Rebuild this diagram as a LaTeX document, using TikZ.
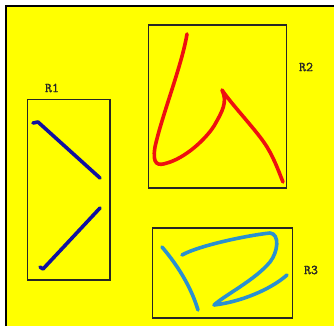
\documentclass[tikz,border=0pt]{standalone}
\usepackage{fontspec}
\newfontfamily\lblfont{Latin Modern Mono}[FakeBold=1.2]
\definecolor{bg}{HTML}{FFFF00}
\definecolor{navy}{HTML}{1010A0}
\definecolor{redink}{HTML}{EE1010}
\definecolor{skyink}{HTML}{2A90D0}
\begin{document}
\begin{tikzpicture}[x=1pt,y=-1pt,
  region/.style={draw=black!85,line width=1.3pt,inner sep=0pt,anchor=north west},
  lbl/.style={font=\lblfont\fontsize{13.5}{15}\selectfont,inner sep=0pt,text=black!85},
  ink/.style={line width=3.6pt,line cap=round,line join=round}]
\useasboundingbox (0,0) rectangle (334,326);
\fill[white] (0,0) rectangle (334,326);
\fill[bg] (6,6) rectangle (334,326);
\draw[black,line width=1.6pt] (6,326) -- (6,6) -- (334,6);
% regions
\node[region,minimum width=82.6pt,minimum height=180.3pt] (r1) at (26.7,99) {};
\node[region,minimum width=138pt,minimum height=163pt] (r2) at (147.7,24.3) {};
\node[region,minimum width=140.3pt,minimum height=90pt] (r3) at (151.7,227.3) {};
% labels
\node[lbl] (l1) at (52,88) {R1};
\node[lbl] (l2) at (306,67) {R2};
\node[lbl] (l3) at (311,270) {R3};
% R1 strokes
\draw[ink,navy] (33,123) -- (38,122) -- (100,178);
\draw[ink,navy] (100,208) -- (72,238) -- (43,269) -- (40,267);
% R2 stroke
\draw[ink,redink] (187,34) .. controls (182,65) and (162,115) .. (155,147)
  .. controls (152,165) and (158,166) .. (167,163)
  .. controls (185,158) and (205,140) .. (214,126)
  .. controls (222,112) and (228,102) .. (222,90)
  .. controls (232,105) and (258,132) .. (267,147)
  .. controls (275,160) and (280,175) .. (283,182);
% R3 strokes
\draw[ink,skyink] (162,247) .. controls (180,268) and (192,290) .. (198,310);
\draw[ink,skyink] (182,255) .. controls (200,245) and (250,235) .. (270,233)
  .. controls (280,234) and (278,252) .. (270,262)
  .. controls (255,280) and (225,295) .. (214,305)
  .. controls (240,302) and (270,290) .. (287,275);
\end{tikzpicture}
\end{document}
